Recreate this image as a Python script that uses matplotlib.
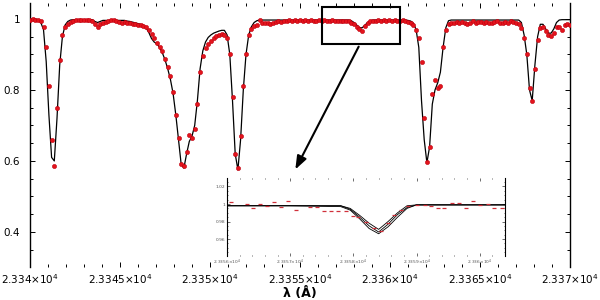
import numpy as np
import matplotlib
matplotlib.use("Agg")
import matplotlib.pyplot as plt
from matplotlib.ticker import FixedLocator, MultipleLocator, FuncFormatter
from matplotlib.patches import Rectangle

# ---------------- data ----------------
lam_start = 23340.0
lam_step = 0.15
obs_flux = [
    0.998, 0.999, 0.998, 0.997, 0.995, 0.978, 0.920, 0.810, 0.660, 0.585,
    0.750, 0.885, 0.955, 0.977, 0.987, 0.991, 0.994, 0.996, 0.997, 0.996,
    0.997, 0.998, 0.996, 0.994, 0.985, 0.978, 0.985, 0.990, 0.992, 0.994,
    0.996, 0.997, 0.994, 0.992, 0.990, 0.991, 0.988, 0.990, 0.987, 0.986,
    0.984, 0.983, 0.980, 0.978, 0.968, 0.957, 0.945, 0.932, 0.922, 0.910,
    0.888, 0.866, 0.840, 0.795, 0.730, 0.665, 0.590, 0.585, 0.625, 0.672,
    0.664, 0.690, 0.760, 0.850, 0.897, 0.917, 0.930, 0.939, 0.946, 0.951,
    0.956, 0.958, 0.956, 0.946, 0.900, 0.780, 0.620, 0.580, 0.670, 0.810,
    0.900, 0.955, 0.973, 0.980, 0.984, 0.998, 0.990, 0.988, 0.990, 0.987,
    0.990, 0.991, 0.994, 0.992, 0.995, 0.994, 0.996, 0.995, 0.996, 0.994,
    0.996, 0.995, 0.997, 0.994, 0.996, 0.995, 0.993, 0.996, 0.994, 0.996,
    0.995, 0.993, 0.996, 0.994, 0.995, 0.993, 0.995, 0.993, 0.994, 0.990,
    0.985, 0.978, 0.972, 0.966, 0.979, 0.988, 0.993, 0.995, 0.994, 0.996,
    0.995, 0.996, 0.994, 0.996, 0.995, 0.996, 0.994, 0.995, 0.996, 0.994,
    0.992, 0.990, 0.982, 0.970, 0.945, 0.880, 0.720, 0.598, 0.640, 0.790,
    0.828, 0.806, 0.810, 0.920, 0.970, 0.985, 0.990, 0.988, 0.991, 0.989,
    0.992, 0.990, 0.987, 0.990, 0.993, 0.990, 0.992, 0.991, 0.990, 0.992,
    0.988, 0.990, 0.991, 0.993, 0.990, 0.988, 0.992, 0.990, 0.993, 0.991,
    0.988, 0.985, 0.975, 0.945, 0.900, 0.805, 0.770, 0.860, 0.940, 0.975,
    0.977, 0.965, 0.956, 0.953, 0.960, 0.976, 0.978, 0.970, 0.982, 0.985,
    0.983,
]
model_flux = [
    0.999, 1.000, 1.000, 0.998, 0.990, 0.970, 0.880, 0.730, 0.610, 0.600,
    0.720, 0.870, 0.950, 0.983, 0.993, 0.997, 0.998, 0.998, 0.998, 0.998,
    0.998, 0.998, 0.998, 0.998, 0.993, 0.990, 0.993, 0.996, 0.996, 0.996,
    0.996, 0.996, 0.996, 0.996, 0.996, 0.996, 0.994, 0.993, 0.991, 0.989,
    0.987, 0.985, 0.982, 0.975, 0.962, 0.945, 0.935, 0.930, 0.920, 0.905,
    0.885, 0.860, 0.830, 0.790, 0.730, 0.660, 0.590, 0.580, 0.620, 0.655,
    0.670, 0.700, 0.770, 0.860, 0.910, 0.935, 0.948, 0.955, 0.960, 0.963,
    0.966, 0.968, 0.968, 0.955, 0.900, 0.770, 0.620, 0.575, 0.660, 0.800,
    0.900, 0.955, 0.978, 0.990, 0.995, 0.997, 0.997, 0.997, 0.997, 0.997,
    0.997, 0.997, 0.997, 0.997, 0.997, 0.997, 0.997, 0.997, 0.997, 0.997,
    0.997, 0.997, 0.997, 0.997, 0.997, 0.997, 0.997, 0.997, 0.997, 0.997,
    0.997, 0.997, 0.997, 0.997, 0.997, 0.997, 0.997, 0.997, 0.997, 0.995,
    0.990, 0.983, 0.976, 0.975, 0.982, 0.990, 0.995, 0.997, 0.997, 0.997,
    0.997, 0.997, 0.997, 0.997, 0.997, 0.997, 0.997, 0.997, 0.997, 0.997,
    0.996, 0.994, 0.988, 0.970, 0.920, 0.770, 0.660, 0.595, 0.640, 0.760,
    0.800, 0.820, 0.850, 0.920, 0.975, 0.995, 0.997, 0.997, 0.997, 0.997,
    0.997, 0.997, 0.997, 0.997, 0.997, 0.997, 0.997, 0.997, 0.997, 0.997,
    0.997, 0.997, 0.997, 0.997, 0.997, 0.997, 0.997, 0.997, 0.997, 0.997,
    0.997, 0.997, 0.990, 0.955, 0.900, 0.800, 0.770, 0.870, 0.950, 0.985,
    0.985, 0.972, 0.960, 0.960, 0.972, 0.990, 0.997, 0.998, 0.998, 0.998,
    0.998,
]
lam = lam_start + lam_step * np.arange(len(obs_flux))

# inset data
inset_obs_lam = [23356.07, 23356.31, 23356.41, 23356.52, 23356.64, 23356.75, 23356.86,
                 23356.97, 23357.09, 23357.31, 23357.42, 23357.53, 23357.64, 23357.76,
                 23357.88, 23358.00, 23358.07, 23358.20, 23358.32, 23358.43, 23358.55,
                 23358.65, 23358.76, 23358.86, 23359.00, 23359.13, 23359.23, 23359.34,
                 23359.44, 23359.56, 23359.67, 23359.79, 23359.90, 23360.01, 23360.13,
                 23360.23, 23360.35]
inset_obs_flux = [1.002, 1.000, 0.995, 1.000, 0.998, 1.002, 0.997, 1.003, 0.993, 0.997,
                  0.997, 0.992, 0.992, 0.992, 0.992, 0.986, 0.985, 0.979, 0.973, 0.969,
                  0.978, 0.987, 0.993, 0.998, 0.999, 0.999, 0.998, 0.996, 0.996, 1.001,
                  1.001, 0.995, 1.003, 0.999, 1.000, 0.996, 0.996]
inset_model_lam = [23356.0, 23357.0, 23357.8, 23357.95, 23358.1, 23358.25, 23358.4,
                   23358.55, 23358.7, 23358.85, 23359.0, 23360.4]
inset_model_a = [0.998, 0.998, 0.998, 0.995, 0.987, 0.978, 0.971, 0.980, 0.990, 0.998, 0.999, 0.999]
inset_model_b = [0.998, 0.998, 0.998, 0.994, 0.985, 0.975, 0.968, 0.977, 0.988, 0.996, 0.999, 0.999]
inset_model_c = [0.998, 0.998, 0.997, 0.993, 0.983, 0.972, 0.966, 0.974, 0.985, 0.995, 0.999, 0.999]

x_major = [23340, 23345, 23350, 23355, 23360, 23365, 23370]
x_labels = ["2.334", "2.3345", "2.335", "2.3355", "2.336", "2.3365", "2.337"]
y_major = [0.4, 0.6, 0.8, 1.0]
y_labels = ["0.4", "0.6", "0.8", "1"]
inset_x_major = [23356, 23357, 23358, 23359, 23360]
inset_x_labels = ["2.3356", "2.3357", "2.3358", "2.3359", "2.336"]
inset_y_major = [0.96, 0.98, 1.0, 1.02]
inset_y_labels = ["0.96", "0.98", "1", "1.02"]

RED = "#e3141c"

fig = plt.figure(figsize=(6, 3), dpi=100)
ax = fig.add_axes([30/600, 1-266.7/300, 540/600, 263.7/300])
ax.plot(lam, model_flux, color="black", lw=0.9, zorder=2)
ax.plot(lam, obs_flux, ls="none", marker="o", ms=3.0, mfc=RED, mec="#c00010", mew=0.4, zorder=3)
ax.set_xlim(23340, 23370)
ax.set_ylim(0.302, 1.045)
for s in ["top", "bottom"]:
    ax.spines[s].set_visible(False)
for s in ["left", "right"]:
    ax.spines[s].set_linewidth(1.0)
ax.xaxis.set_major_locator(FixedLocator(x_major))
ax.set_xticklabels([l + "×10$^4$" for l in x_labels])
ax.xaxis.set_minor_locator(MultipleLocator(1))
ax.yaxis.set_major_locator(FixedLocator(y_major))
ax.set_yticklabels(y_labels)
ax.yaxis.set_minor_locator(MultipleLocator(0.05))
ax.tick_params(which="both", direction="in", top=True, right=True, labelsize=7.5, width=0.7)
ax.tick_params(which="major", length=3.5, pad=4)
ax.tick_params(which="minor", length=2)
ax.tick_params(axis="y", pad=7)

fig.text(0.5, 1-293/300, "λ (Å)", ha="center", va="center", fontsize=9, fontweight="bold")

# zoom rectangle and arrow
ax.add_patch(Rectangle((23356.22, 0.930), 4.34, 0.104, fill=False, ec="black", lw=1.5, zorder=4))
ax.annotate("", xy=(23354.67, 0.569), xytext=(23358.33, 0.929),
            arrowprops=dict(arrowstyle="-|>,head_length=0.8,head_width=0.3", color="black", lw=1.5),
            zorder=4)

# inset
ins = fig.add_axes([227/600, 1-256/300, 278/600, 78/300])
ins.plot(inset_model_lam, inset_model_a, color="black", lw=0.6)
ins.plot(inset_model_lam, inset_model_b, color="black", lw=0.6)
ins.plot(inset_model_lam, inset_model_c, color="black", lw=0.6)
ins.plot(inset_obs_lam, inset_obs_flux, ls="none", marker="_", ms=3.5, mew=0.9, color="#d0303a")
ins.set_xlim(23356.0, 23360.4)
ins.set_ylim(0.9406, 1.0297)
for s in ["top", "bottom"]:
    ins.spines[s].set_visible(False)
for s in ["left", "right"]:
    ins.spines[s].set_linewidth(0.8)
ins.xaxis.set_major_locator(FixedLocator(inset_x_major))
ins.set_xticklabels([l + "×10$^4$" for l in inset_x_labels])
ins.xaxis.set_minor_locator(MultipleLocator(0.2))
ins.yaxis.set_major_locator(FixedLocator(inset_y_major))
ins.set_yticklabels(inset_y_labels)
ins.yaxis.set_minor_locator(MultipleLocator(0.005))
ins.tick_params(which="both", direction="in", top=True, right=True, labelsize=3.2,
                labelcolor="#555555", width=0.4, pad=1.5)
ins.tick_params(which="major", length=2)
ins.tick_params(which="minor", length=1)

fig.savefig("out.png", dpi=100)
